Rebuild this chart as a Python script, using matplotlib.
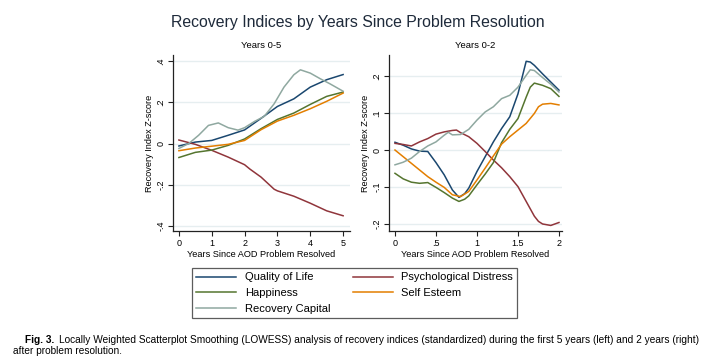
import matplotlib
matplotlib.use("Agg")
import matplotlib.pyplot as plt
from matplotlib.lines import Line2D

plt.rcParams['font.family'] = ['Liberation Sans', 'DejaVu Sans']

# ---------------- data ----------------
series_names = ["Quality of Life", "Psychological Distress", "Happiness",
                "Self Esteem", "Recovery Capital"]
series_colors = ["#1a476f", "#90353b", "#55752f", "#e37e00", "#8fa8a0"]

# Left panel: years 0-5
l_x_qol = [0, 0.5, 1, 1.5, 2, 2.5, 3, 3.5, 4, 4.5, 5]
l_y_qol = [-0.012, 0.007, 0.015, 0.04, 0.066, 0.122, 0.18, 0.217, 0.274, 0.31, 0.335]
l_x_psy = [0, 0.5, 1, 1.5, 2, 2.16, 2.5, 2.9, 3, 3.5, 4, 4.5, 5]
l_y_psy = [0.017, -0.004, -0.033, -0.066, -0.103, -0.124, -0.163, -0.222, -0.23, -0.256, -0.29, -0.327, -0.351]
l_x_hap = [0, 0.5, 1, 1.5, 2, 2.5, 3, 3.5, 4, 4.5, 5]
l_y_hap = [-0.068, -0.043, -0.032, -0.009, 0.022, 0.072, 0.117, 0.148, 0.19, 0.229, 0.25]
l_x_se = [0, 0.5, 1, 1.5, 2, 2.5, 3, 3.5, 4, 4.5, 5]
l_y_se = [-0.035, -0.022, -0.013, -0.004, 0.015, 0.067, 0.109, 0.137, 0.169, 0.205, 0.245]
l_x_rc = [0, 0.3, 0.6, 0.9, 1.2, 1.5, 1.8, 2, 2.3, 2.6, 2.9, 3.2, 3.5, 3.7, 4, 4.3, 4.6, 5]
l_y_rc = [-0.024, 0.0, 0.04, 0.088, 0.1, 0.077, 0.065, 0.077, 0.107, 0.132, 0.193, 0.274, 0.334, 0.358, 0.342, 0.315, 0.29, 0.254]

# Right panel: years 0-2
r_x_qol = [0, 0.1, 0.2, 0.3, 0.4, 0.5, 0.6, 0.7, 0.78, 0.85, 0.9, 1.0, 1.1, 1.2, 1.3, 1.4, 1.5, 1.6, 1.65, 1.7, 1.8, 1.9, 2.0]
r_y_qol = [0.021, 0.013, 0.003, -0.003, -0.004, -0.034, -0.067, -0.108, -0.128, -0.118, -0.103, -0.058, -0.018, 0.022, 0.058, 0.09, 0.152, 0.24, 0.238, 0.229, 0.206, 0.184, 0.162]
r_x_psy = [0, 0.1, 0.2, 0.3, 0.4, 0.5, 0.6, 0.7, 0.75, 0.8, 0.9, 1.0, 1.1, 1.2, 1.3, 1.4, 1.5, 1.6, 1.7, 1.75, 1.8, 1.9, 2.0]
r_y_psy = [0.018, 0.015, 0.011, 0.022, 0.031, 0.043, 0.049, 0.053, 0.054, 0.047, 0.036, 0.018, -0.004, -0.027, -0.048, -0.072, -0.099, -0.139, -0.179, -0.193, -0.2, -0.204, -0.196]
r_x_hap = [0, 0.1, 0.2, 0.3, 0.4, 0.5, 0.6, 0.7, 0.78, 0.85, 0.9, 1.0, 1.1, 1.2, 1.3, 1.4, 1.5, 1.6, 1.65, 1.7, 1.8, 1.9, 2.0]
r_y_hap = [-0.063, -0.078, -0.087, -0.09, -0.088, -0.101, -0.115, -0.13, -0.139, -0.133, -0.124, -0.094, -0.065, -0.034, 0.02, 0.056, 0.085, 0.143, 0.17, 0.181, 0.175, 0.166, 0.145]
r_x_se = [0, 0.1, 0.2, 0.3, 0.4, 0.5, 0.6, 0.7, 0.8, 0.9, 1.0, 1.1, 1.2, 1.3, 1.4, 1.5, 1.6, 1.7, 1.75, 1.8, 1.9, 2.0]
r_y_se = [0.0, -0.018, -0.036, -0.054, -0.072, -0.087, -0.101, -0.121, -0.126, -0.112, -0.081, -0.049, -0.016, 0.016, 0.036, 0.054, 0.072, 0.099, 0.117, 0.124, 0.126, 0.122]
r_x_rc = [0, 0.1, 0.2, 0.3, 0.4, 0.5, 0.6, 0.65, 0.7, 0.8, 0.9, 1.0, 1.1, 1.2, 1.3, 1.4, 1.5, 1.6, 1.65, 1.7, 1.8, 1.9, 2.0]
r_y_rc = [-0.04, -0.033, -0.022, -0.004, 0.011, 0.022, 0.04, 0.048, 0.041, 0.042, 0.056, 0.081, 0.103, 0.117, 0.139, 0.148, 0.17, 0.202, 0.217, 0.215, 0.196, 0.178, 0.157]

left_xticks = [0, 1, 2, 3, 4, 5]
left_xticklabels = ["0", "1", "2", "3", "4", "5"]
left_yticks = [-0.4, -0.2, 0, 0.2, 0.4]
left_yticklabels = ["-.4", "-.2", "0", ".2", ".4"]
right_xticks = [0, 0.5, 1, 1.5, 2]
right_xticklabels = ["0", ".5", "1", "1.5", "2"]
right_yticks = [-0.2, -0.1, 0, 0.1, 0.2]
right_yticklabels = ["-.2", "-.1", "0", ".1", ".2"]

title = "Recovery Indices by Years Since Problem Resolution"
left_title = "Years 0-5"
right_title = "Years 0-2"
xlabel = "Years Since AOD Problem Resolved"
ylabel = "Recovery Index Z-score"
caption_bold = "Fig. 3."
caption_rest = ("Locally Weighted Scatterplot Smoothing (LOWESS) analysis of recovery indices "
                "(standardized) during the first 5 years (left) and 2 years (right)")
caption_line2 = "after problem resolution."

# ---------------- figure ----------------
W, H = 711, 363
fig = plt.figure(figsize=(W / 100, H / 100), dpi=100)
fig.patch.set_facecolor("white")


def fx(px):
    return px / W


def fy(py):
    return 1 - py / H


grid_color = "#e6eef0"
axis_color = "#222222"


def style_axes(ax, xt, xtl, yt, ytl, sub):
    for s in ["top", "right"]:
        ax.spines[s].set_visible(False)
    for s in ["left", "bottom"]:
        ax.spines[s].set_color(axis_color)
        ax.spines[s].set_linewidth(0.9)
    ax.set_xticks(xt)
    ax.set_xticklabels(xtl)
    ax.set_yticks(yt)
    ax.set_yticklabels(ytl, rotation=90, va="center")
    ax.tick_params(axis="both", direction="out", length=3.5, width=0.8,
                   color=axis_color, labelsize=6.5, pad=2)
    ax.yaxis.grid(True, color=grid_color, linewidth=1.0)
    ax.set_axisbelow(True)
    ax.set_xlabel(xlabel, fontsize=6.6, labelpad=1.5)
    ax.set_ylabel(ylabel, fontsize=6.6, labelpad=2)
    ax.set_title(sub, fontsize=6.8, pad=5)


# left axes
axL = fig.add_axes([fx(173), fy(231), fx(350 - 173), (231 - 55) / H])
# right axes
axR = fig.add_axes([fx(389), fy(231), fx(562 - 389), (231 - 55) / H])

left_data = [(l_x_qol, l_y_qol), (l_x_psy, l_y_psy), (l_x_hap, l_y_hap),
             (l_x_se, l_y_se), (l_x_rc, l_y_rc)]
right_data = [(r_x_qol, r_y_qol), (r_x_psy, r_y_psy), (r_x_hap, r_y_hap),
              (r_x_se, r_y_se), (r_x_rc, r_y_rc)]

lw = 1.1
for (x, y), c in zip(left_data, series_colors):
    axL.plot(x, y, color=c, lw=lw)
for (x, y), c in zip(right_data, series_colors):
    axR.plot(x, y, color=c, lw=lw)

axL.set_xlim(-0.18, 5.21)
axL.set_ylim(-0.425, 0.43)
axR.set_xlim(-0.073, 2.037)
axR.set_ylim(-0.219, 0.257)

style_axes(axL, left_xticks, left_xticklabels, left_yticks, left_yticklabels, left_title)
style_axes(axR, right_xticks, right_xticklabels, right_yticks, right_yticklabels, right_title)

fig.text(fx(358), fy(22), title, ha="center", va="center", fontsize=11.4, color="#1e2a3a")

# legend (row-major order in picture -> column-major for matplotlib)
order = [0, 2, 4, 1, 3]
handles = [Line2D([], [], color=series_colors[i], lw=lw) for i in order]
labels = [series_names[i] for i in order]
leg = fig.legend(handles, labels, ncol=2, loc="upper left",
                 bbox_to_anchor=(fx(192), fy(268)),
                 fontsize=8, frameon=True, fancybox=False,
                 handlelength=3.6, handletextpad=0.75, columnspacing=2.0,
                 borderpad=0.4, labelspacing=0.5, borderaxespad=0)
leg.get_frame().set_edgecolor("#333333")
leg.get_frame().set_linewidth(0.9)

# caption
ov = fig.add_axes([0, 0, 1, 1])
ov.axis("off")
ov.set_xlim(0, W)
ov.set_ylim(H, 0)
cap_fs = 7.3
tb = ov.text(25, 340, caption_bold, fontsize=cap_fs, fontweight="bold", va="center", ha="left")
ov.annotate(caption_rest, xy=(1, 0.5), xycoords=tb, xytext=(3.5, 0), textcoords="offset points",
            fontsize=cap_fs, va="center", ha="left")
ov.text(13, 351.5, caption_line2, fontsize=cap_fs, va="center", ha="left")

fig.savefig("out.png", dpi=100, facecolor="white")
